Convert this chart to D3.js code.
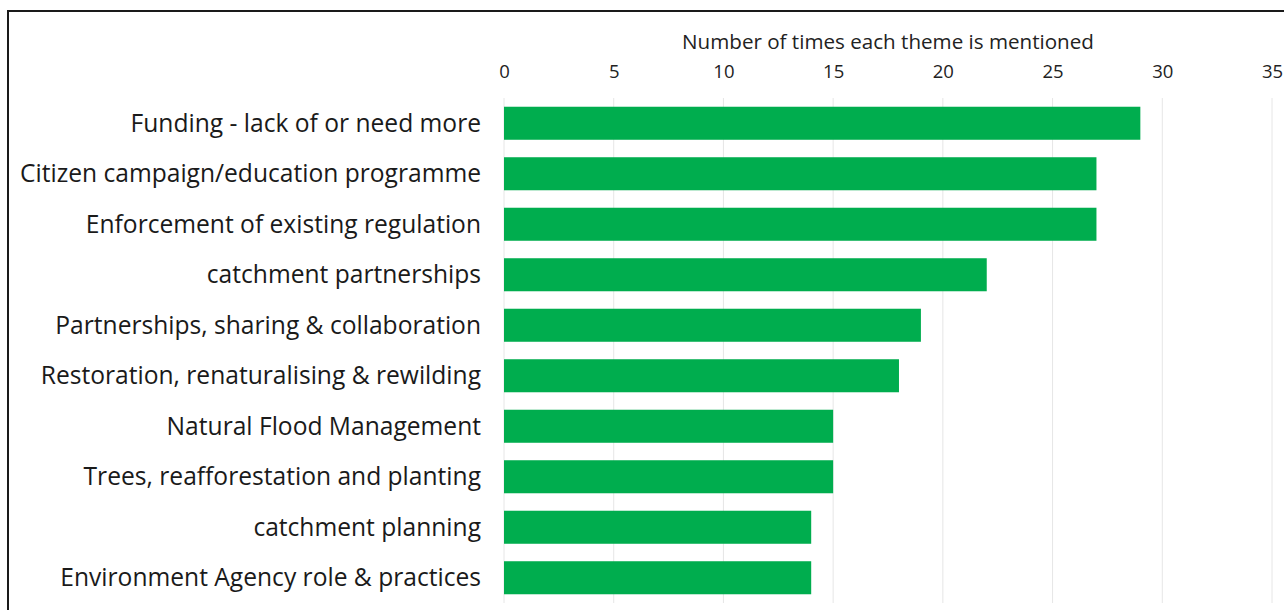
<!DOCTYPE html>
<html>
<head>
<meta charset="utf-8">
<script src="https://cdn.jsdelivr.net/npm/d3@7/dist/d3.min.js"></script>
<style>
  html, body { margin: 0; padding: 0; background: #fff; }
  svg { display: block; }
</style>
</head>
<body>
<svg id="chart" width="1284" height="610"></svg>
<script>
// Themes, ordered from most to least mentioned
const themes = [
  "Funding - lack of or need more",
  "Citizen campaign/education programme",
  "Enforcement of existing regulation",
  "catchment partnerships",
  "Partnerships, sharing & collaboration",
  "Restoration, renaturalising & rewilding",
  "Natural Flood Management",
  "Trees, reafforestation and planting",
  "catchment planning",
  "Environment Agency role & practices"
];
const mentions = [29, 27, 27, 22, 19, 18, 15, 15, 14, 14];
const xTicks = [0, 5, 10, 15, 20, 25, 30, 35];
const axisTitle = "Number of times each theme is mentioned";

const svg = d3.select("#chart");
const font = "'Open Sans', Lato, sans-serif";

// Chart frame
svg.append("rect")
  .attr("x", 8).attr("y", 11)
  .attr("width", 1400).attr("height", 800)
  .attr("fill", "none")
  .attr("stroke", "#1a1a1a")
  .attr("stroke-width", 2);

const plot = { left: 504, right: 1272, top: 98, bottom: 603 };

const x = d3.scaleLinear().domain([0, 35]).range([plot.left, plot.right]);
const y = d3.scaleBand()
  .domain(themes)
  .range([plot.top, plot.bottom])
  .paddingInner(0.346)
  .paddingOuter(0.173);

// Vertical gridlines
svg.append("g")
  .selectAll("line")
  .data(xTicks)
  .join("line")
  .attr("x1", d => x(d)).attr("x2", d => x(d))
  .attr("y1", plot.top).attr("y2", plot.bottom)
  .attr("stroke", "#e6e6e6")
  .attr("stroke-width", 1);

// Top axis
const axis = svg.append("g")
  .attr("transform", `translate(0,${78})`)
  .call(d3.axisTop(x).tickValues(xTicks).tickSize(0).tickPadding(0));
axis.select(".domain").remove();
axis.selectAll("text")
  .attr("font-family", font)
  .attr("font-size", 18.5)
  .attr("fill", "#222");

svg.append("text")
  .attr("x", 888).attr("y", 49)
  .attr("text-anchor", "middle")
  .attr("font-family", font)
  .attr("font-size", 20.6)
  .attr("fill", "#222")
  .text(axisTitle);

// Bars
svg.append("g")
  .selectAll("rect")
  .data(mentions)
  .join("rect")
  .attr("x", x(0))
  .attr("y", (d, i) => y(themes[i]))
  .attr("width", d => x(d) - x(0))
  .attr("height", y.bandwidth())
  .attr("fill", "#00ad4e");

// Category labels
svg.append("g")
  .selectAll("text")
  .data(themes)
  .join("text")
  .attr("x", 481)
  .attr("y", d => y(d) + y.bandwidth() / 2)
  .attr("dy", "0.35em")
  .attr("text-anchor", "end")
  .attr("font-family", font)
  .attr("font-size", 24.6)
  .attr("fill", "#1a1a1a")
  .text(d => d);
</script>
</body>
</html>
